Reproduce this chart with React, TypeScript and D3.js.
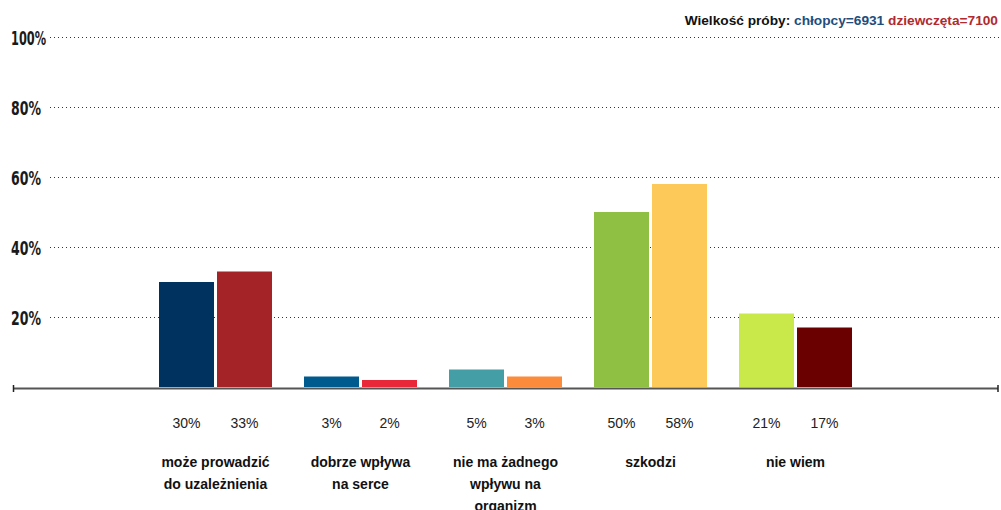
import React from "react";
import * as d3 from "d3";

const categories = [
  ["może prowadzić", "do uzależnienia"],
  ["dobrze wpływa", "na serce"],
  ["nie ma żadnego", "wpływu na", "organizm"],
  ["szkodzi"],
  ["nie wiem"],
];
const boys = [30, 3, 5, 50, 21];
const girls = [33, 2, 3, 58, 17];
const boyColors = ["#00325f", "#015a8e", "#439ea5", "#8fc043", "#c9e84a"];
const girlColors = ["#a32326", "#e9283a", "#fd8b3c", "#fdca59", "#6b0000"];
const yTicks = [20, 40, 60, 80, 100];

const W = 1001;
const H = 510;

export default function App() {
  const keys = categories.map((_, i) => String(i));
  const x = d3.scaleBand<string>().domain(keys).range([143, 868]).padding(0);
  const y = d3.scaleLinear().domain([0, 100]).range([387, 37]);
  const barW = 55;
  const gap = 3;
  const labelFont = "'Liberation Sans', Arial, sans-serif";
  const tickFont = "'Liberation Sans Narrow', 'DejaVu Sans Condensed', sans-serif";

  return (
    <svg
      width={W}
      height={H}
      style={{ position: "absolute", left: 0, top: 0, background: "#fff" }}
    >
      {yTicks.map((t) => (
        <g key={t}>
          <line
            x1={50}
            x2={1000}
            y1={y(t) + 0.5}
            y2={y(t) + 0.5}
            stroke="#333"
            strokeWidth={1}
            strokeDasharray="1,3"
          />
          <text
            x={11}
            y={y(t) + 8}
            fontFamily={tickFont}
            fontWeight="bold"
            fontSize={20}
            fill="#1a1a1a"
            textLength={t === 100 ? 35 : 30}
            lengthAdjust="spacingAndGlyphs"
          >
            {t}%
          </text>
        </g>
      ))}

      {keys.map((k, i) => {
        const c = (x(k) as number) + x.bandwidth() / 2;
        const bx = c - gap / 2 - barW;
        const gx = c + gap / 2;
        return (
          <g key={k}>
            <rect
              x={bx}
              y={y(boys[i])}
              width={barW}
              height={y(0) - y(boys[i])}
              fill={boyColors[i]}
            />
            <rect
              x={gx}
              y={y(girls[i])}
              width={barW}
              height={y(0) - y(girls[i])}
              fill={girlColors[i]}
            />
            <text
              x={bx + barW / 2}
              y={428}
              textAnchor="middle"
              fontFamily={labelFont}
              fontSize={14}
              fill="#222"
            >
              {boys[i]}%
            </text>
            <text
              x={gx + barW / 2}
              y={428}
              textAnchor="middle"
              fontFamily={labelFont}
              fontSize={14}
              fill="#222"
            >
              {girls[i]}%
            </text>
            {categories[i].map((line, j) => (
              <text
                key={j}
                x={c}
                y={467 + j * 22}
                textAnchor="middle"
                fontFamily={labelFont}
                fontWeight="bold"
                fontSize={14}
                fill="#111"
              >
                {line}
              </text>
            ))}
          </g>
        );
      })}

      <line x1={13} x2={998} y1={388.5} y2={388.5} stroke="#555" strokeWidth={2} />
      <line x1={13.5} x2={13.5} y1={385} y2={392} stroke="#222" strokeWidth={1.5} />
      <line x1={998} x2={998} y1={385} y2={392} stroke="#222" strokeWidth={1.5} />

      <text
        x={998}
        y={25}
        textAnchor="end"
        fontFamily={labelFont}
        fontWeight="bold"
        fontSize={13.7}
      >
        <tspan fill="#111">Wielkość próby: </tspan>
        <tspan fill="#1d4e7c">chłopcy=6931</tspan>
        <tspan fill="#b02a2e"> dziewczęta=7100</tspan>
      </text>
    </svg>
  );
}
